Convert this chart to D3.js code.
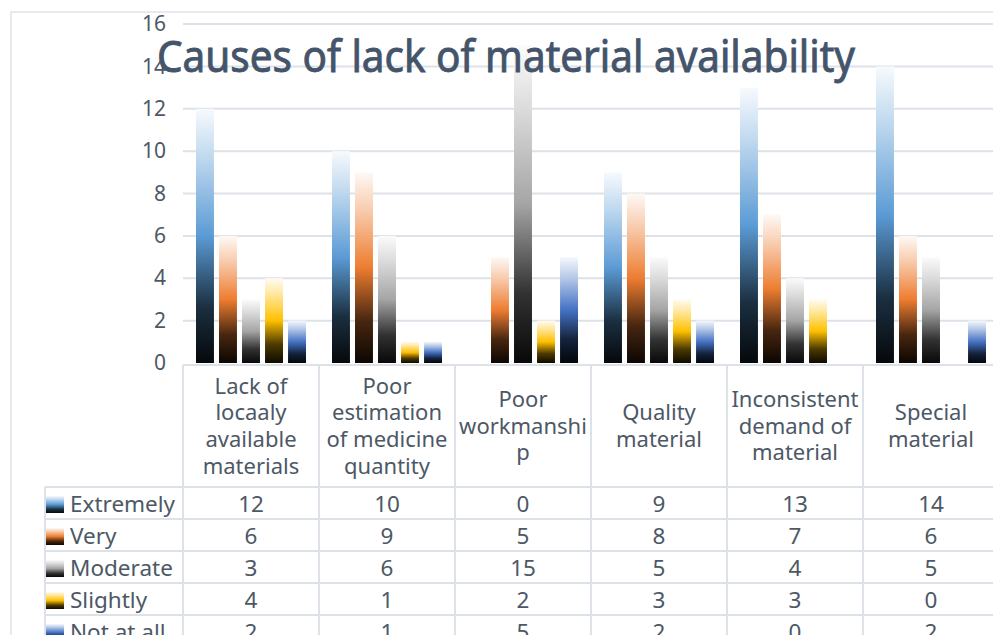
<!DOCTYPE html>
<html>
<head>
<meta charset="utf-8">
<script src="https://cdn.jsdelivr.net/npm/d3@7"></script>
<style>
  body { margin: 0; background: #fff; }
  svg { display: block; font-family: "Noto Sans", "Open Sans", sans-serif; }
</style>
</head>
<body>
<svg id="chart" width="993" height="635"></svg>
<script>
// ---- data ----
const categories = [
  "Lack of\nlocaaly\navailable\nmaterials",
  "Poor\nestimation\nof medicine\nquantity",
  "Poor\nworkmanshi\np",
  "Quality\nmaterial",
  "Inconsistent\ndemand of\nmaterial",
  "Special\nmaterial"
];
const seriesNames = ["Extremely", "Very", "Moderate", "Slightly", "Not at all"];
const extremely = [12, 10, 0, 9, 13, 14];
const very      = [6, 9, 5, 8, 7, 6];
const moderate  = [3, 6, 15, 5, 4, 5];
const slightly  = [4, 1, 2, 3, 3, 0];
const notAtAll  = [2, 1, 5, 2, 0, 2];
const yTicks    = [0, 2, 4, 6, 8, 10, 12, 14, 16];
const seriesColors = ["#5b9bd5", "#ed7d31", "#a5a5a5", "#ffc000", "#4472c4"];
const titleText = "Causes of lack of material availability";

const seriesValues = [extremely, very, moderate, slightly, notAtAll];
const series = seriesNames.map((name, i) => ({ name, color: seriesColors[i], values: seriesValues[i] }));

// ---- layout ----
const svg = d3.select("#chart");
const W = 993, H = 635;
const plotLeft = 183, plotRight = 999, plotTop = 24, plotBottom = 363;
const headerBottom = 487, rowH = 32, legendLeft = 45;
const gridColor = "#dde1e8";
const textColor = "#4d5866";

const x0 = d3.scaleBand().domain(d3.range(categories.length)).range([plotLeft, plotRight]).padding(0);
const x1 = d3.scaleBand().domain(d3.range(series.length))
  .range([13, x0.bandwidth() - 13]).paddingInner(0.22).paddingOuter(0);
const y = d3.scaleLinear().domain([0, 16]).range([plotBottom, plotTop]);

// ---- gradients: dark base, full colour at mid height, pale tint on top ----
const defs = svg.append("defs");
series.forEach((s, i) => {
  const g = defs.append("linearGradient").attr("id", "grad" + i)
    .attr("x1", 0).attr("y1", 1).attr("x2", 0).attr("y2", 0);
  g.append("stop").attr("offset", 0).attr("stop-color", d3.interpolateRgb(s.color, "#000")(0.95));
  g.append("stop").attr("offset", 0.22).attr("stop-color", d3.interpolateRgb(s.color, "#000")(0.7));
  g.append("stop").attr("offset", 0.5).attr("stop-color", s.color);
  g.append("stop").attr("offset", 0.8).attr("stop-color", d3.interpolateRgb(s.color, "#fff")(0.6));
  g.append("stop").attr("offset", 1).attr("stop-color", d3.interpolateRgb(s.color, "#fff")(0.95));
});

// ---- chart frame ----
svg.append("path")
  .attr("d", `M${W + 5},12 H11 V${H + 5}`)
  .attr("fill", "none").attr("stroke", "#dfe3ea").attr("stroke-width", 1.5);

// ---- gridlines + y axis labels ----
const yAxis = d3.axisLeft(y).tickValues(yTicks).tickSize(0).tickPadding(0);
const ya = svg.append("g").attr("transform", `translate(166,0)`).call(yAxis);
ya.select(".domain").remove();
ya.selectAll("text").attr("font-size", 21).attr("fill", textColor)
  .attr("font-family", "\"Noto Sans\", sans-serif");

svg.append("g").selectAll("line").data(yTicks.filter(t => t > 0)).join("line")
  .attr("x1", plotLeft).attr("x2", W + 5)
  .attr("y1", d => y(d)).attr("y2", d => y(d))
  .attr("stroke", gridColor).attr("stroke-width", 2);

// ---- bars ----
const groups = svg.append("g").selectAll("g").data(categories).join("g")
  .attr("transform", (d, i) => `translate(${x0(i)},0)`);
groups.selectAll("rect")
  .data((d, ci) => series.map((s, si) => ({ si, v: s.values[ci] })).filter(d => d.v > 0))
  .join("rect")
  .attr("x", d => x1(d.si))
  .attr("width", x1.bandwidth())
  .attr("y", d => y(d.v))
  .attr("height", d => y(0) - y(d.v))
  .attr("fill", d => `url(#grad${d.si})`);

// ---- data table ----
const tbl = svg.append("g").attr("stroke", gridColor).attr("stroke-width", 2);
// header top line (category axis)
tbl.append("line").attr("x1", plotLeft).attr("x2", W + 5).attr("y1", plotBottom + 2).attr("y2", plotBottom + 2);
// column separators
tbl.selectAll("line.col").data(d3.range(categories.length + 1)).join("line").attr("class", "col")
  .attr("x1", i => plotLeft + i * x0.bandwidth()).attr("x2", i => plotLeft + i * x0.bandwidth())
  .attr("y1", plotBottom + 2).attr("y2", H + 5);
// legend column left edge
tbl.append("line").attr("x1", legendLeft).attr("x2", legendLeft).attr("y1", headerBottom).attr("y2", H + 5);
// row separators
tbl.selectAll("line.row").data(d3.range(series.length)).join("line").attr("class", "row")
  .attr("x1", legendLeft).attr("x2", W + 5)
  .attr("y1", i => headerBottom + i * rowH).attr("y2", i => headerBottom + i * rowH);

// category labels in the header row
const lineH = 26.7;
const headerMid = (plotBottom + headerBottom) / 2 + 1;
svg.append("g").selectAll("text").data(categories).join("text")
  .attr("text-anchor", "middle").attr("font-size", 22).attr("fill", textColor)
  .each(function (d, i) {
    const lines = d.split("\n");
    const cx = x0(i) + x0.bandwidth() / 2;
    const top = headerMid - (lines.length - 1) * lineH / 2;
    d3.select(this).selectAll("tspan").data(lines).join("tspan")
      .attr("x", cx).attr("y", (l, k) => top + k * lineH).attr("dy", "0.35em").text(l => l);
  });

// legend keys and series names
const rows = svg.append("g").selectAll("g").data(series).join("g")
  .attr("transform", (d, i) => `translate(0,${headerBottom + i * rowH})`);
rows.append("rect").attr("x", 46).attr("y", 9).attr("width", 18).attr("height", 17)
  .attr("fill", (d, i) => `url(#grad${i})`);
rows.append("text").attr("x", 70).attr("y", rowH / 2 + 1).attr("dy", "0.35em")
  .attr("font-size", 22.5).attr("fill", textColor).text(d => d.name);

// values
rows.selectAll("text.val").data(d => d.values).join("text").attr("class", "val")
  .attr("x", (v, i) => x0(i) + x0.bandwidth() / 2)
  .attr("y", rowH / 2 + 1).attr("dy", "0.35em")
  .attr("text-anchor", "middle").attr("font-size", 22.5).attr("fill", textColor)
  .text(v => v);

// ---- title, drawn over the plot ----
svg.append("text").attr("x", 157).attr("y", 72)
  .attr("font-size", 44).attr("fill", "#44546a")
  .attr("stroke", "#44546a").attr("stroke-width", 0.9)
  .attr("textLength", 698).attr("lengthAdjust", "spacingAndGlyphs")
  .text(titleText);
</script>
</body>
</html>
